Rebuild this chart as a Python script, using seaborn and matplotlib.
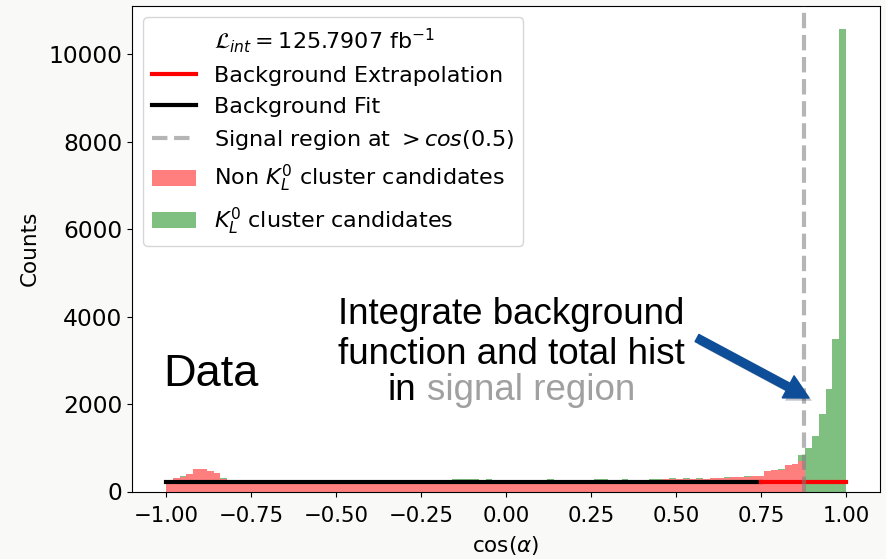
import numpy as np
import pandas as pd
import matplotlib
matplotlib.use("Agg")
import matplotlib.pyplot as plt
import seaborn as sns
from matplotlib.lines import Line2D
from matplotlib.patches import Patch, FancyArrowPatch
import matplotlib.patheffects as pe

# ---------------- data ----------------
bin_range = (-1.0, 1.0)
n_bins = 100

non_kl_counts = [
    265, 298, 337, 390, 505, 505, 475, 413, 290, 266,
    264, 266, 265, 263, 266, 265, 264, 266, 265, 264,
    265, 266, 264, 265, 266, 264, 265, 263, 266, 265,
    264, 265, 266, 264, 265, 266, 265, 264, 265, 266,
    264, 265, 266, 265, 264, 266, 265, 264, 266, 265,
    265, 264, 266, 265, 264, 266, 265, 264, 266, 265,
    266, 264, 265, 266, 265, 264, 266, 265, 266, 267,
    268, 270, 272, 275, 277, 282, 285, 288, 290, 295,
    305, 310, 318, 325, 330, 340, 350, 348, 462, 482,
    500, 612, 630, 703, 0, 0, 0, 0, 0, 0,
]
kl_counts = [
    0, 10, 10, 12, 15, 15, 0, 0, 12, 0,
    0, 0, 0, 0, 0, 0, 0, 0, 0, 0,
    0, 0, 0, 0, 0, 0, 0, 0, 0, 0,
    0, 0, 0, 0, 0, 0, 0, 0, 0, 0,
    0, 0, 12, 12, 12, 12, 0, 12, 0, 0,
    0, 0, 0, 0, 0, 0, 15, 0, 0, 0,
    0, 0, 0, 15, 12, 0, 0, 15, 0, 0,
    0, 15, 15, 15, 25, 0, 20, 0, 18, 0,
    15, 0, 18, 0, 0, 20, 15, 0, 15, 15,
    15, 0, 0, 123, 1005, 1265, 1766, 2350, 3486, 10573,
]
fit_level = 215
fit_range = (-1.0, 0.75)
extrap_range = (0.75, 1.0)
signal_cut = np.cos(0.5)

class_names = ["Non KL0", "KL0"]
legend_labels = [
    r"$\mathcal{L}_{int} = $125.7907 fb$^{-1}$",
    "Background Extrapolation",
    "Background Fit",
    r"Signal region at $>cos(0.5)$",
    r"Non $K_L^0$ cluster candidates",
    r"$K_L^0$ cluster candidates",
]

# ---------------- figure ----------------
W, H = 886, 559
fig = plt.figure(figsize=(W / 100, H / 100), dpi=100, facecolor="#f9f9f8")
ax = fig.add_axes([132 / W, 1 - 491.5 / H, (880 - 132) / W, (491.5 - 6) / H])
ax.set_facecolor("white")

edges = np.linspace(bin_range[0], bin_range[1], n_bins + 1)
centers = 0.5 * (edges[:-1] + edges[1:])
df = pd.DataFrame({
    "cos": np.concatenate([centers, centers]),
    "counts": np.array(non_kl_counts + kl_counts, dtype=float),
    "cls": [class_names[0]] * n_bins + [class_names[1]] * n_bins,
})

sns.histplot(
    data=df, x="cos", weights="counts", hue="cls",
    hue_order=[class_names[1], class_names[0]],
    multiple="stack", bins=n_bins, binrange=bin_range,
    palette={class_names[0]: "red", class_names[1]: "green"},
    alpha=0.5, linewidth=0, legend=False, ax=ax,
)

ax.plot(list(fit_range), [fit_level, fit_level], color="black", lw=3, zorder=4)
ax.plot(list(extrap_range), [fit_level, fit_level], color="red", lw=3, zorder=4)
ax.axvline(signal_cut, color="gray", alpha=0.58, ls="--", lw=3, zorder=5)

ax.set_xlabel(r"cos($\alpha$)", fontsize=15.5, labelpad=6)
ax.set_ylabel("Counts", fontsize=15.5, labelpad=6)
ax.tick_params(axis="x", labelsize=15.3, pad=7)
ax.tick_params(axis="y", labelsize=16.8)
ax.set_yticks([0, 2000, 4000, 6000, 8000, 10000])
ax.set_xticks([-1.0, -0.75, -0.5, -0.25, 0.0, 0.25, 0.5, 0.75, 1.0])

handles = [
    Line2D([], [], linestyle="none"),
    Line2D([], [], color="red", lw=3),
    Line2D([], [], color="black", lw=3),
    Line2D([], [], color="gray", alpha=0.58, ls="--", lw=3),
    Patch(facecolor="red", alpha=0.5, edgecolor="none"),
    Patch(facecolor="green", alpha=0.5, edgecolor="none"),
]
ax.legend(handles, legend_labels, loc="upper left", fontsize=16)

# ---------------- slide annotations ----------------
sans = ["Liberation Sans", "DejaVu Sans"]
def fx(x):
    return x / W
def fy(y):
    return 1 - y / H

fig.text(fx(163), fy(386), "Data", fontsize=32.5, family=sans, va="baseline", ha="left")
fig.text(fx(511), fy(324.3), "Integrate background", fontsize=26.5, family=sans,
         va="baseline", ha="center")
fig.text(fx(511), fy(364.3), "function and total hist", fontsize=26.5, family=sans,
         va="baseline", ha="center")

# third line: "in" (black) + "signal region" (gray), centred as one line
renderer = fig.canvas.get_renderer()
probe = fig.text(fx(511.5), fy(400.5), "in signal region", fontsize=26.5, family=sans,
                 va="baseline", ha="center")
bb = probe.get_window_extent(renderer=renderer)
probe.remove()
fig.text(bb.x0 / W, fy(400.5), "in", fontsize=26.5, family=sans, va="baseline",
         ha="left", color="black")
fig.text(bb.x1 / W, fy(400.5), "signal region", fontsize=26.5, family=sans,
         va="baseline", ha="right", color="#a0a0a0")

arrow = FancyArrowPatch(
    (fx(697), fy(338)), (fx(809), fy(398)), transform=fig.transFigure,
    arrowstyle="simple,head_length=17,head_width=18,tail_width=5.8",
    mutation_scale=1, color="#0e4d97", shrinkA=0, shrinkB=0,
    path_effects=[pe.SimplePatchShadow(offset=(2, -2), alpha=0.25), pe.Normal()],
)
fig.patches.append(arrow)

fig.savefig("out.png", dpi=100, facecolor=fig.get_facecolor())
